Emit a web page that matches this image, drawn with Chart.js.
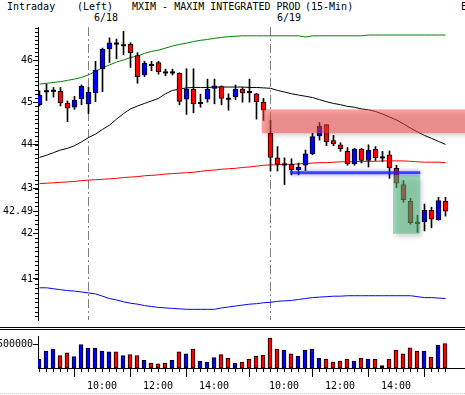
<!DOCTYPE html>
<html>
<head>
<meta charset="utf-8">
<script src="https://cdn.jsdelivr.net/npm/chart.js"></script>
<style>
  body { margin: 0; background: #fff; }
  #caja { position: relative; width: 465px; height: 395px; overflow: hidden; font: 10px "DejaVu Sans Mono", monospace; color: #000; }
  .txt { position: absolute; white-space: pre; line-height: 12px; }
  canvas { position: absolute; left: 0; }
  .linea { position: absolute; left: 0; width: 465px; height: 1px; background: #000; }
</style>
</head>
<body>
<div id="caja">
  <span class="txt" style="left:7px;top:1px">Intraday</span>
  <span class="txt" style="left:77px;top:1px">(Left)</span>
  <span class="txt" style="left:132px;top:1px">MXIM - MAXIM INTEGRATED PROD</span>
  <span class="txt" style="left:305px;top:1px">(15-Min)</span>
  <span class="txt" style="left:461px;top:1px">E</span>
  <span class="txt" style="left:94px;top:12px">6/18</span>
  <span class="txt" style="left:277px;top:12px">6/19</span>
  <canvas id="grafico" width="465" height="326" style="top:0"></canvas>
  <div class="linea" style="top:327px"></div>
  <div class="linea" style="top:329px"></div>
  <canvas id="volumen" width="465" height="65" style="top:330px"></canvas>
  <div style="position:absolute;left:0;top:393px;width:465px;border-top:1px dotted #c8c8c8"></div>
</div>
<script>
// velas de 15 minutos: 6/17 14:15 hasta 6/19 15:45 (indice 0 = primera vela visible)
const aperturas = [44.94,45.26,45.27,45.26,44.98,44.88,45.08,44.96,45.22,45.80,46.28,46.41,46.37,46.39,46.12,45.65,45.89,45.95,45.71,45.71,
  45.69,45.07,45.31,44.98,45.07,45.33,45.37,45.08,45.13,45.31,45.24,45.20,45.00,44.27,43.70,43.55,43.55,43.43,43.53,43.79,
  44.21,44.47,44.10,44.00,43.85,43.56,43.90,43.64,43.90,43.71,43.77,43.46,43.09,42.71,42.23,42.25,42.51,42.30,42.71];
const maximos = [45.27,45.43,45.35,45.35,45.03,45.14,45.41,45.35,45.98,46.30,46.55,46.52,46.71,46.43,46.19,45.98,45.98,45.98,45.79,45.79,
  45.70,45.80,45.80,45.19,45.55,45.55,45.39,45.20,45.41,45.35,45.55,45.21,45.09,44.57,43.96,43.70,43.68,43.58,43.88,44.27,
  44.52,44.48,44.22,44.05,43.94,43.92,43.92,44.00,43.96,43.85,43.86,43.53,43.18,42.78,42.40,42.65,42.58,42.80,42.80];
const minimos = [44.91,45.04,45.12,44.91,44.54,44.83,44.94,44.73,45.01,45.25,45.95,46.04,46.14,45.83,45.45,45.61,45.75,45.67,45.63,45.65,
  44.94,44.71,44.75,44.88,45.00,44.96,44.94,44.81,45.06,45.00,45.00,44.60,44.57,43.40,43.40,43.09,43.31,43.31,43.41,43.77,
  44.11,43.98,43.98,43.85,43.53,43.53,43.58,43.49,43.64,43.61,43.23,43.02,42.69,42.20,42.02,42.05,42.12,42.29,42.38];
const cierres = [45.17,45.26,45.27,44.98,44.86,45.05,45.38,45.24,45.77,46.27,46.43,46.41,46.37,46.19,45.61,45.93,45.89,45.73,45.71,45.71,
  45.02,45.31,44.96,44.98,45.31,45.39,45.09,45.08,45.31,45.22,45.24,45.01,44.81,43.71,43.55,43.55,43.43,43.49,43.79,44.19,
  44.44,44.07,44.02,43.91,43.56,43.90,43.64,43.88,43.70,43.71,43.47,43.12,42.75,42.23,42.23,42.51,42.31,42.73,42.49];
const volumenes = [185000,362000,402000,264000,323000,244000,500000,421000,421000,362000,343000,343000,264000,283000,265000,165000,106000,87000,106000,165000,
  343000,303000,402000,146000,126000,224000,283000,205000,100000,126000,185000,250000,270000,638000,402000,382000,303000,250000,382000,402000,
  205000,185000,126000,146000,185000,146000,205000,185000,185000,53000,185000,382000,303000,427000,362000,362000,230000,480000,520000];
// 1 = sube (azul), -1 = baja (rojo), 0 = sin cambio (negro)
const dirVolumen = [1,1,1,-1,-1,1,1,1,1,1,1,-1,1,-1,-1,1,-1,-1,-1,1,
  -1,1,-1,1,1,1,-1,-1,1,-1,-1,-1,-1,-1,-1,1,-1,1,1,1,
  1,-1,-1,-1,-1,1,-1,1,-1,0,-1,-1,-1,-1,-1,1,-1,1,-1];

// lineas de indicadores
const bandaSuperior = [45.43,45.45,45.47,45.49,45.52,45.55,45.59,45.65,45.74,45.82,45.89,45.96,46.01,46.07,46.11,46.17,46.22,46.25,46.30,46.35,
  46.39,46.42,46.46,46.49,46.51,46.54,46.56,46.58,46.59,46.60,46.60,46.60,46.60,46.60,46.60,46.60,46.60,46.60,46.57,46.60,
  46.60,46.60,46.60,46.60,46.60,46.60,46.60,46.62,46.62,46.62,46.62,46.62,46.62,46.62,46.62,46.62,46.62,46.62,46.62];
const mediaNegra = [43.71,43.76,43.82,43.88,43.92,43.98,44.07,44.17,44.25,44.36,44.46,44.60,44.73,44.84,44.91,44.97,45.03,45.09,45.20,45.28,
  45.31,45.34,45.35,45.35,45.35,45.36,45.36,45.36,45.36,45.36,45.35,45.35,45.34,45.33,45.28,45.24,45.20,45.17,45.14,45.11,
  45.06,45.01,44.97,44.94,44.90,44.88,44.84,44.82,44.78,44.72,44.65,44.58,44.49,44.39,44.30,44.22,44.15,44.08,44.01];
const mediaRoja = [43.11,43.12,43.13,43.14,43.15,43.16,43.18,43.19,43.20,43.21,43.22,43.23,43.25,43.26,43.27,43.29,43.30,43.31,43.33,43.34,
  43.35,43.36,43.37,43.39,43.41,43.42,43.44,43.45,43.46,43.48,43.49,43.51,43.53,43.54,43.54,43.55,43.55,43.56,43.57,43.58,
  43.59,43.59,43.60,43.61,43.61,43.61,43.62,43.62,43.62,43.63,43.63,43.63,43.63,43.62,43.61,43.60,43.60,43.60,43.59];
const bandaInferior = [40.81,40.81,40.79,40.77,40.75,40.74,40.72,40.70,40.68,40.63,40.58,40.55,40.51,40.48,40.46,40.43,40.41,40.39,40.38,40.37,
  40.36,40.35,40.35,40.35,40.35,40.35,40.38,40.40,40.42,40.44,40.46,40.47,40.49,40.50,40.52,40.53,40.54,40.56,40.58,40.60,
  40.61,40.62,40.63,40.63,40.64,40.64,40.64,40.64,40.64,40.64,40.64,40.64,40.64,40.64,40.62,40.60,40.60,40.59,40.58];

// ejes
const ticksPrecio = [41, 42, 42.49, 43, 44, 45, 46];
const ticksVolumen = [500000];
const etiquetasHora = ["10:00", "12:00", "14:00", "10:00", "12:00", "14:00"];
const posicionesHora = [9, 17, 25, 35, 43, 51];
const inicioDia = [7, 33]; // 9:30 de 6/18 y 6/19

// marcas dibujadas sobre el grafico (indice desde, indice hasta, precio bajo, precio alto)
const zonaRosa = [31.75, 61, 44.27, 44.83];
const lineaAzul = [35.8, 54.4, 43.36, 43.36];
const cajaVerde = [50.5, 54.4, 41.99, 43.31];

const fuente = { family: '"DejaVu Sans Mono", monospace', size: 10 };
const AZUL = "#0000ff";
const ROJO = "#ff0000";
const xMin = -1.5 / 7; // 7 px por vela, area desde x=38
const xMax = xMin + 61;

const indices = aperturas.map((_, i) => i);
const idxCuerpo = indices.filter((i) => aperturas[i] !== cierres[i]);
const cuerpos = idxCuerpo.map((i) => ({ x: i, y: [aperturas[i], cierres[i]] }));
const coloresCuerpo = idxCuerpo.map((i) => (cierres[i] > aperturas[i] ? AZUL : ROJO));
const dojis = indices.filter((i) => aperturas[i] === cierres[i]).map((i) => ({ x: i, y: cierres[i] }));
const mechas = indices.map((i) => ({ x: i, y: [minimos[i], maximos[i]] }));
const serie = (arr) => arr.map((v, i) => ({ x: i, y: v }));

// lineas de division de dias y marcas menores del eje de precio
const pluginFondo = {
  id: "fondo",
  beforeDatasetsDraw(chart) {
    const { ctx, chartArea, scales } = chart;
    ctx.save();
    ctx.strokeStyle = "#808080";
    ctx.lineWidth = 1;
    ctx.setLineDash([9, 3, 2, 3]);
    inicioDia.forEach((d) => {
      const x = Math.round(scales.x.getPixelForValue(d)) - 0.5;
      ctx.beginPath();
      ctx.moveTo(x, chartArea.top);
      ctx.lineTo(x, chartArea.bottom);
      ctx.stroke();
    });
    ctx.setLineDash([]);
    ctx.strokeStyle = "#000";
    for (let v = 40.2; v < 46.85; v += 0.1) {
      const y = Math.round(scales.y.getPixelForValue(v)) + 0.5;
      ctx.beginPath();
      ctx.moveTo(chartArea.left - 3, y);
      ctx.lineTo(chartArea.left, y);
      ctx.stroke();
    }
    ctx.restore();
  },
  afterDatasetsDraw(chart) {
    const { ctx, chartArea, scales } = chart;
    const px = (v) => Math.min(scales.x.getPixelForValue(v), chartArea.right + 10);
    ctx.save();
    // zona rosa
    ctx.shadowColor = "rgba(0,0,0,0.35)";
    ctx.shadowBlur = 5;
    ctx.shadowOffsetX = 2;
    ctx.shadowOffsetY = 3;
    ctx.fillStyle = "rgba(255,70,70,0.5)";
    let y1 = scales.y.getPixelForValue(zonaRosa[3]);
    let y2 = scales.y.getPixelForValue(zonaRosa[2]);
    ctx.fillRect(px(zonaRosa[0]), y1, px(zonaRosa[1]) - px(zonaRosa[0]), y2 - y1);
    // caja verde
    ctx.fillStyle = "rgba(80,190,130,0.55)";
    y1 = scales.y.getPixelForValue(cajaVerde[3]);
    y2 = scales.y.getPixelForValue(cajaVerde[2]);
    ctx.fillRect(px(cajaVerde[0]), y1, px(cajaVerde[1]) - px(cajaVerde[0]), y2 - y1);
    // linea azul
    ctx.shadowColor = "rgba(0,0,255,0.6)";
    ctx.shadowBlur = 4;
    ctx.shadowOffsetX = 0;
    ctx.shadowOffsetY = 0;
    ctx.strokeStyle = "rgba(30,30,255,0.8)";
    ctx.lineWidth = 3;
    const yl = scales.y.getPixelForValue(lineaAzul[2]);
    ctx.beginPath();
    ctx.moveTo(px(lineaAzul[0]), yl);
    ctx.lineTo(px(lineaAzul[1]), yl);
    ctx.stroke();
    ctx.restore();
  },
};

new Chart(document.getElementById("grafico"), {
  type: "bar",
  data: {
    datasets: [
      { type: "line", data: serie(bandaSuperior), borderColor: "#008000", borderWidth: 1, pointRadius: 0, order: 10 },
      { type: "line", data: serie(mediaNegra), borderColor: "#000", borderWidth: 1, pointRadius: 0, order: 10 },
      { type: "line", data: serie(mediaRoja), borderColor: ROJO, borderWidth: 1, pointRadius: 0, order: 10 },
      { type: "line", data: serie(bandaInferior), borderColor: AZUL, borderWidth: 1, pointRadius: 0, order: 10 },
      { data: mechas, backgroundColor: "#000", barThickness: 1, grouped: false, order: 3 },
      { data: cuerpos, backgroundColor: coloresCuerpo, borderColor: "#000", borderWidth: 1, borderSkipped: false, barThickness: 5, grouped: false, order: 2 },
      { type: "scatter", data: dojis, pointStyle: "line", radius: 2.5, borderColor: "#000", borderWidth: 2, order: 1 },
    ],
  },
  options: {
    responsive: false,
    animation: false,
    events: [],
    layout: { autoPadding: false, padding: { top: 27, bottom: 1, left: 0, right: 0 } },
    plugins: { legend: { display: false }, tooltip: { enabled: false } },
    scales: {
      x: { type: "linear", min: xMin, max: xMax, offset: false, display: false },
      y: {
        type: "logarithmic",
        min: 40.124,
        max: 46.817,
        bounds: "data",
        afterBuildTicks: (s) => { s.ticks = ticksPrecio.map((v) => ({ value: v })); },
        afterFit: (s) => { s.width = 38; },
        ticks: { callback: (v) => String(v), autoSkip: false, font: fuente, color: "#000", padding: 0 },
        grid: { drawOnChartArea: false, tickLength: 5, tickColor: "#000" },
        border: { color: "#000", width: 1 },
      },
    },
  },
  plugins: [pluginFondo],
});

// marcas cortas del eje de tiempo (una por vela)
const pluginMarcas = {
  id: "marcas",
  afterDraw(chart) {
    const { ctx, chartArea, scales } = chart;
    ctx.save();
    ctx.strokeStyle = "#000";
    ctx.lineWidth = 1;
    indices.forEach((i) => {
      const x = Math.round(scales.x.getPixelForValue(i)) + 0.5;
      ctx.beginPath();
      ctx.moveTo(x, chartArea.bottom);
      ctx.lineTo(x, chartArea.bottom + 4);
      ctx.stroke();
    });
    ctx.restore();
  },
};

new Chart(document.getElementById("volumen"), {
  type: "bar",
  data: {
    datasets: [
      {
        data: serie(volumenes),
        backgroundColor: dirVolumen.map((d) => (d > 0 ? AZUL : d < 0 ? ROJO : "#000")),
        borderColor: "#000",
        borderWidth: 1,
        borderSkipped: false,
        barThickness: 4,
      },
    ],
  },
  options: {
    responsive: false,
    animation: false,
    events: [],
    layout: { autoPadding: false, padding: { top: 3, bottom: 0, left: 0, right: 0 } },
    plugins: { legend: { display: false }, tooltip: { enabled: false } },
    scales: {
      x: {
        type: "linear",
        min: xMin + 0.5 / 7,
        max: xMax + 0.5 / 7,
        offset: false,
        afterBuildTicks: (s) => { s.ticks = posicionesHora.map((v) => ({ value: v })); },
        afterFit: (s) => { s.height = 27; },
        ticks: { callback: (v, i) => etiquetasHora[i], autoSkip: false, maxRotation: 0, font: fuente, color: "#000", padding: 3 },
        grid: { drawOnChartArea: false, tickLength: 9, tickColor: "#000" },
        border: { color: "#000", width: 1 },
      },
      y: {
        min: 0,
        max: 680000,
        afterBuildTicks: (s) => { s.ticks = ticksVolumen.map((v) => ({ value: v })); },
        afterFit: (s) => { s.width = 38; },
        ticks: { callback: (v) => String(v), autoSkip: false, font: fuente, color: "#000", padding: 0 },
        grid: { drawOnChartArea: false, tickLength: 5, tickColor: "#000" },
        border: { color: "#000", width: 1 },
      },
    },
  },
  plugins: [pluginMarcas],
});
</script>
</body>
</html>
